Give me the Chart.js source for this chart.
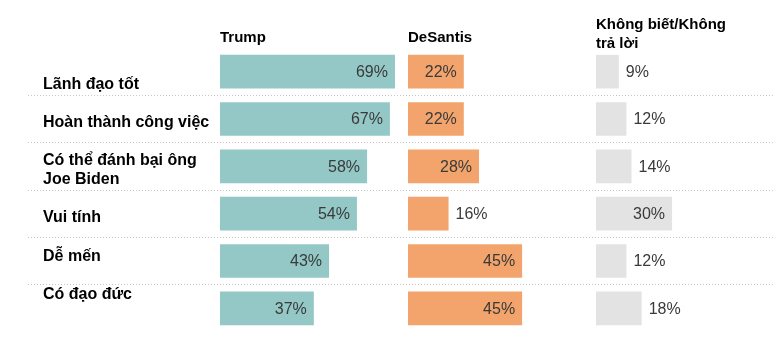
<!DOCTYPE html>
<html>
<head>
<meta charset="utf-8">
<script src="https://cdn.jsdelivr.net/npm/chart.js@4.4.1/dist/chart.umd.min.js"></script>
<style>
html, body { margin: 0; padding: 0; background: #fff; }
#wrap { width: 779px; height: 345px; }
</style>
</head>
<body>
<div id="wrap"><canvas id="grafica"></canvas></div>
<script>
// Datos del gráfico
const categorias = [
    ['Lãnh đạo tốt'],
    ['Hoàn thành công việc'],
    ['Có thể đánh bại ông', 'Joe Biden'],
    ['Vui tính'],
    ['Dễ mến'],
    ['Có đạo đức']
];
const encabezados = [['Trump'], ['DeSantis'], ['Không biết/Không', 'trả lời']];
const valoresTrump = [69, 67, 58, 54, 43, 37];
const valoresDeSantis = [22, 22, 28, 16, 45, 45];
const valoresNoSabe = [9, 12, 14, 30, 12, 18];

// Diseño
const colores = ['#93c8c7', '#f2a46c', '#e3e3e3'];
const anchosColumna = [188, 188, 179];
const pxPorPunto = 2.536;
const desplazamientoEtiqueta = [13, 4, 4, 4, -4, -14];
const fuente = '"Liberation Sans", Arial, sans-serif';

const idsEjes = ['xTrump', 'xDeSantis', 'xNoSabe'];

// Encabezados de columna, etiquetas de categoría y valores
const pluginTextos = {
    id: 'textos',
    afterDraw(chart) {
        const ctx = chart.ctx;
        const yScale = chart.scales.y;
        ctx.save();
        ctx.fillStyle = '#000';
        ctx.textAlign = 'left';
        ctx.textBaseline = 'middle';

        ctx.font = 'bold 15px ' + fuente;
        idsEjes.forEach((id, i) => {
            const lineas = encabezados[i];
            const x = chart.scales[id].left;
            lineas.forEach((linea, j) => {
                ctx.fillText(linea, x, 38 - (lineas.length - 1) * 13 + j * 19);
            });
        });

        ctx.font = 'bold 16px ' + fuente;
        categorias.forEach((lineas, i) => {
            const yc = yScale.getPixelForValue(i) + desplazamientoEtiqueta[i];
            lineas.forEach((linea, j) => {
                ctx.fillText(linea, 43, yc + (j - (lineas.length - 1) / 2) * 19);
            });
        });

        ctx.font = '16px ' + fuente;
        ctx.fillStyle = '#3a3a3a';
        chart.data.datasets.forEach((ds, d) => {
            const meta = chart.getDatasetMeta(d);
            meta.data.forEach((barra, i) => {
                const v = ds.data[i];
                if (v >= 20) {
                    ctx.textAlign = 'right';
                    ctx.fillText(v + '%', barra.x - 7, barra.y + 1);
                } else {
                    ctx.textAlign = 'left';
                    ctx.fillText(v + '%', barra.x + 7, barra.y + 1);
                }
            });
        });
        ctx.restore();
    }
};

const series = [valoresTrump, valoresDeSantis, valoresNoSabe];

const colorLinea = (c) => (c.type === 'tick' && c.index > 0) ? '#c8c8c8' : 'rgba(0,0,0,0)';

const ejes = {
    y: {
        type: 'category',
        offset: true,
        ticks: { display: false },
        border: { display: false, dash: [1, 2] },
        grid: {
            offset: true,
            drawOnChartArea: true,
            drawTicks: true,
            tickLength: 192,
            lineWidth: 1,
            tickBorderDash: [1, 2],
            color: colorLinea,
            tickColor: colorLinea
        },
        afterFit(scale) { scale.width = 177; }
    }
};
idsEjes.forEach((id, i) => {
    ejes[id] = {
        type: 'linear',
        position: 'bottom',
        stack: 'columnas',
        stackWeight: anchosColumna[i],
        min: 0,
        max: anchosColumna[i] / pxPorPunto,
        display: false,
        grid: { display: false }
    };
});

new Chart(document.getElementById('grafica'), {
    type: 'bar',
    data: {
        labels: categorias.map(c => c.join(' ')),
        datasets: series.map((valores, i) => ({
            data: valores,
            xAxisID: idsEjes[i],
            yAxisID: 'y',
            backgroundColor: colores[i],
            borderWidth: 0,
            grouped: false,
            barPercentage: 0.71,
            categoryPercentage: 1
        }))
    },
    options: {
        indexAxis: 'y',
        responsive: true,
        maintainAspectRatio: false,
        animation: false,
        layout: { padding: { left: 43, top: 48, bottom: 13, right: 4 } },
        plugins: {
            legend: { display: false },
            tooltip: { enabled: false }
        },
        scales: ejes
    },
    plugins: [pluginTextos]
});
</script>
</body>
</html>
